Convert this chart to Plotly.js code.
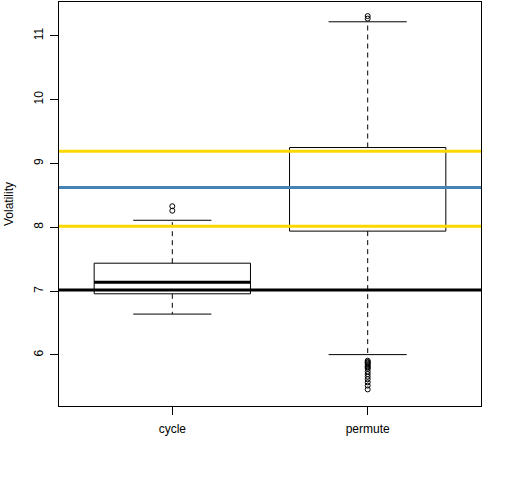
<!DOCTYPE html>
<html>
<head>
<meta charset="utf-8">
<script src="https://cdn.plot.ly/plotly-3.0.1.min.js"></script>
<style>html,body{margin:0;padding:0;background:#fff;}#chart{width:512px;height:480px;}</style>
</head>
<body>
<div id="chart"></div>
<script>
// ---- data ----
const categories = ["cycle", "permute"];
const q1 = [6.958, 7.94];
const medians = [7.14, 8.625];
const q3 = [7.4375, 9.25];
const lowerWhisker = [6.64, 6.005];
const upperWhisker = [8.11, 11.22];
const outliersCycle = [8.26, 8.33];
const outliersPermute = [11.27, 11.31, 5.91, 5.89, 5.88, 5.86, 5.84, 5.82, 5.80, 5.78, 5.74, 5.70, 5.66, 5.62, 5.57, 5.52, 5.46];
const refLineValues = [7.016, 8.016, 8.625, 9.19];
const refLineColors = ["#000000", "#FFD700", "#4682B4", "#FFD700"];
const yTicks = [6, 7, 8, 9, 10, 11];

// ---- build ----
const boxWidth = 0.8, capHalf = 0.2;
const outlierSets = [outliersCycle, outliersPermute];
const traces = [];
categories.forEach((c, i) => {
  const pos = i + 1;
  traces.push({
    type: 'box', x: [pos], q1: [q1[i]], median: [medians[i]], q3: [q3[i]],
    lowerfence: [q1[i]], upperfence: [q3[i]], width: boxWidth,
    line: {color: '#000', width: 1}, fillcolor: 'rgba(0,0,0,0)',
    whiskerwidth: 0, boxpoints: false, hoverinfo: 'skip', showlegend: false
  });
  // median thick
  traces.push({type: 'scatter', mode: 'lines', x: [pos - boxWidth/2, pos + boxWidth/2], y: [medians[i], medians[i]],
    line: {color: '#000', width: 3}, hoverinfo: 'skip', showlegend: false});
  // dashed whiskers
  traces.push({type: 'scatter', mode: 'lines', x: [pos, pos, null, pos, pos],
    y: [q3[i], upperWhisker[i], null, q1[i], lowerWhisker[i]],
    line: {color: '#000', width: 1, dash: '5px,4px'}, hoverinfo: 'skip', showlegend: false});
  // caps
  traces.push({type: 'scatter', mode: 'lines', x: [pos - capHalf, pos + capHalf, null, pos - capHalf, pos + capHalf],
    y: [upperWhisker[i], upperWhisker[i], null, lowerWhisker[i], lowerWhisker[i]],
    line: {color: '#000', width: 1}, hoverinfo: 'skip', showlegend: false});
  // outliers
  traces.push({type: 'scatter', mode: 'markers', x: outlierSets[i].map(() => pos), y: outlierSets[i],
    marker: {symbol: 'circle-open', size: 5, color: '#000', line: {width: 1, color: '#000'}},
    hoverinfo: 'skip', showlegend: false});
});

const shapes = refLineValues.map((v, k) => ({
  type: 'line', xref: 'paper', yref: 'y', x0: 0, x1: 1, y0: v, y1: v,
  line: {color: refLineColors[k], width: 3}, layer: 'above'
}));

const font = {family: 'Liberation Sans, Arial, sans-serif', size: 12, color: '#000'};
const layout = {
  width: 512, height: 480,
  margin: {l: 59, r: 31, t: 2, b: 74, pad: 0},
  paper_bgcolor: '#fff', plot_bgcolor: '#fff',
  font: font, showlegend: false,
  xaxis: {
    range: [0.42, 2.58], tickmode: 'array', tickvals: categories.map((c, i) => i + 1), ticktext: categories,
    ticks: 'outside', ticklen: 8, tickwidth: 1, tickcolor: '#000', ticklabelstandoff: 4,
    showline: true, mirror: true, linecolor: '#000', linewidth: 1,
    showgrid: false, zeroline: false, tickfont: font
  },
  yaxis: {
    range: [5.2, 11.53], tickmode: 'array', tickvals: yTicks, ticktext: yTicks.map(String),
    ticks: 'outside', ticklen: 8, tickwidth: 1, tickcolor: '#000', tickangle: -90, ticklabelstandoff: 2,
    showline: true, mirror: true, linecolor: '#000', linewidth: 1,
    showgrid: false, zeroline: false, tickfont: font,
    title: {text: 'Volatility', font: font, standoff: 16}
  },
  shapes: shapes
};
Plotly.newPlot('chart', traces, layout, {displayModeBar: false, staticPlot: true});
</script>
</body>
</html>
